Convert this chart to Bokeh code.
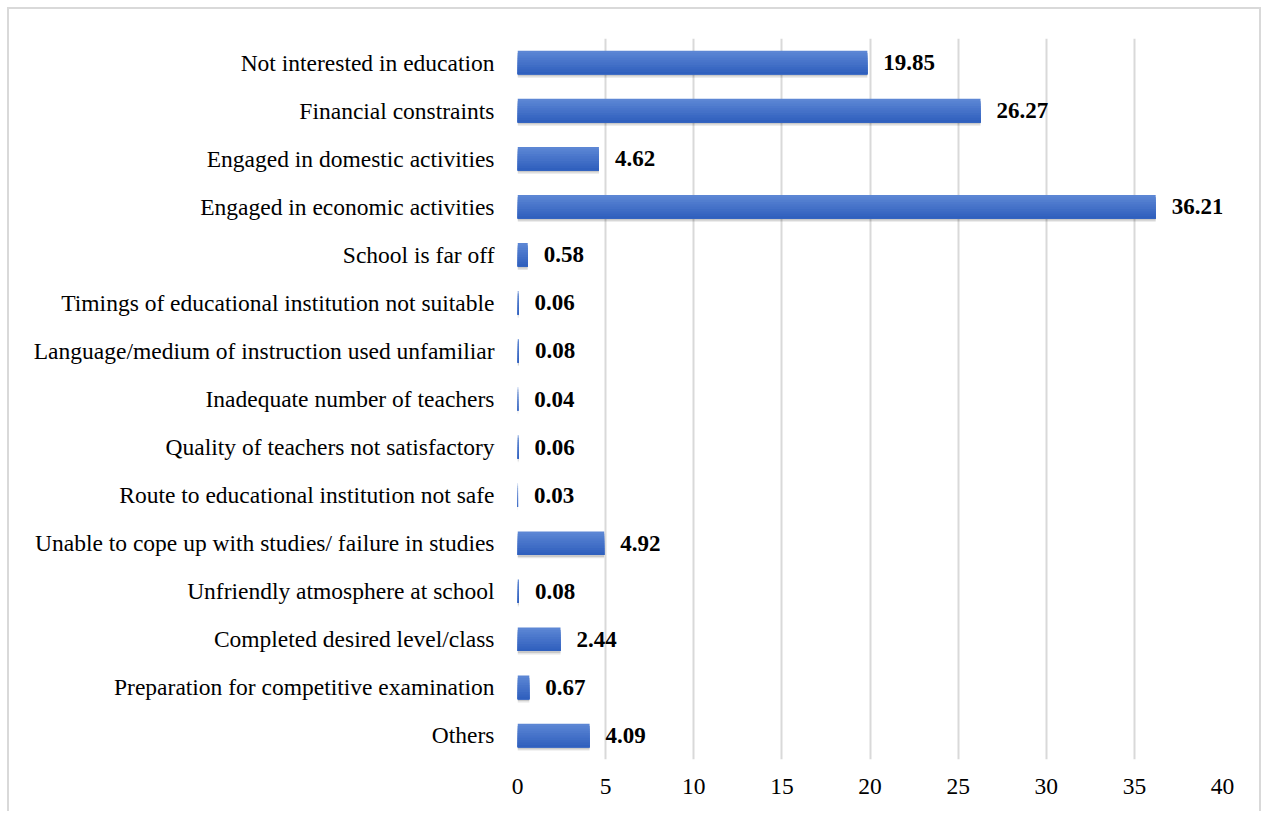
from bokeh.plotting import figure
from bokeh.models import ColumnDataSource, FactorRange, Range1d, FixedTicker
from bokeh.transform import dodge
from bokeh.core.properties import value
from bokeh.embed import file_html
from bokeh.resources import INLINE

categories = [
    "Not interested in education",
    "Financial constraints",
    "Engaged in domestic activities",
    "Engaged in economic activities",
    "School is far off",
    "Timings of educational institution not suitable",
    "Language/medium of instruction used unfamiliar",
    "Inadequate number of teachers",
    "Quality of teachers not satisfactory",
    "Route to educational institution not safe",
    "Unable to cope up with studies/ failure in studies",
    "Unfriendly atmosphere at school",
    "Completed desired level/class",
    "Preparation for competitive examination",
    "Others",
]
values = [19.85, 26.27, 4.62, 36.21, 0.58, 0.06, 0.08, 0.04, 0.06, 0.03,
          4.92, 0.08, 2.44, 0.67, 4.09]
x_ticks = [0, 5, 10, 15, 20, 25, 30, 35, 40]

FONT = "Liberation Serif"

src = ColumnDataSource(dict(
    cat=categories,
    val=values,
    label=[f"{v:.2f}" for v in values],
))

p = figure(
    width=1254, height=804,
    y_range=FactorRange(factors=list(reversed(categories)), range_padding=0),
    x_range=Range1d(0, 40),
    output_backend="svg", toolbar_location=None,
    min_border_left=508, min_border_right=41, min_border_top=29, min_border_bottom=54,
    styles={"margin-left": "7px", "margin-top": "7px",
            "border-left": "2px solid #d9d9d9", "border-top": "2px solid #d9d9d9",
            "border-right": "2px solid #d9d9d9"},
)
p.outline_line_color = None
p.background_fill_color = "white"
p.border_fill_color = "white"

# grid
p.ygrid.grid_line_color = None
p.xgrid.grid_line_color = "#d9d9d9"
p.xgrid.grid_line_width = 2
p.xaxis.ticker = FixedTicker(ticks=x_ticks)

# axes
for ax in (p.xaxis, p.yaxis):
    ax.axis_line_color = None
    ax.major_tick_line_color = None
    ax.minor_tick_line_color = None
    ax.major_label_text_font = FONT
    ax.major_label_text_font_size = "23.5px"
    ax.major_label_text_color = "#000000"
p.yaxis.major_label_standoff = 17
p.xaxis.major_label_standoff = 13

H = 0.49
# shadow
p.hbar(y=dodge("cat", -0.07, range=p.y_range), left=0, right="val", height=H,
       source=src, fill_color="#000000", fill_alpha=0.10, line_color=None)
p.hbar(y=dodge("cat", -0.04, range=p.y_range), left=0, right="val", height=H,
       source=src, fill_color="#000000", fill_alpha=0.12, line_color=None)

# gradient bar: overlapping layers, each reaching the bar bottom (top light -> bottom dark)
top = (92, 134, 212)
bot = (48, 96, 190)
N = 10
for k in range(N):
    t = k / (N - 1)
    c = tuple(int(round(top[i] + (bot[i] - top[i]) * t)) for i in range(3))
    col = "#%02x%02x%02x" % c
    h = H - k * H / N
    center = -k * H / (2 * N)
    p.hbar(y=dodge("cat", center, range=p.y_range), left=0, right="val",
           height=h, source=src, fill_color=col, line_color=None)

# value labels
p.text(x="val", y="cat", text="label", source=src, x_offset=16,
       text_baseline="middle", text_align="left",
       text_font=value(FONT), text_font_style="bold", text_font_size="23px",
       text_color="#000000")

open("out.html", "w").write(file_html(p, INLINE))
